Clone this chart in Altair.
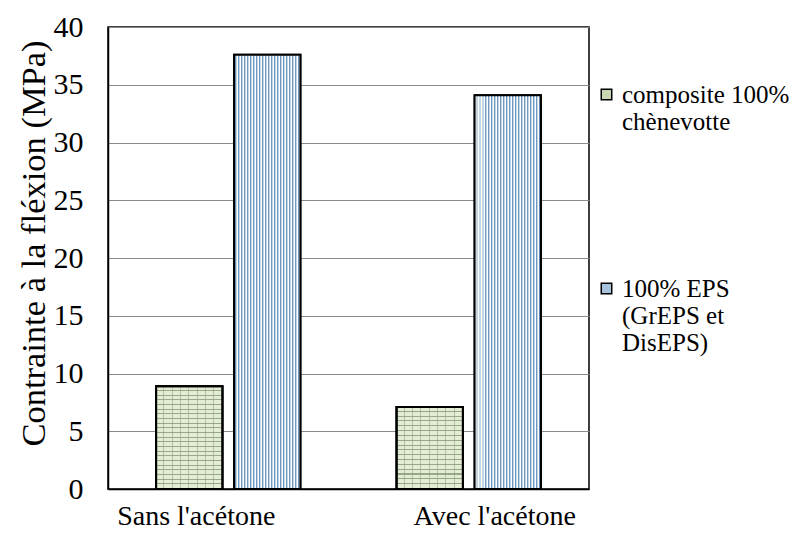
import json
import altair as alt
import pandas as pd

# ---------------- data ----------------
categories = ["Sans l'acétone", "Avec l'acétone"]
series = ["composite 100% chènevotte", "100% EPS (GrEPS et DisEPS)"]
composite_values = [8.9, 7.1]
eps_values = [37.6, 34.1]
y_ticks = [0, 5, 10, 15, 20, 25, 30, 35, 40]
legend_lines = [["composite 100%", "chènevotte"], ["100% EPS", "(GrEPS et", "DisEPS)"]]

records = []
for c, v in zip(categories, composite_values):
    records.append({"category": c, "series": series[0], "value": v})
for c, v in zip(categories, eps_values):
    records.append({"category": c, "series": series[1], "value": v})
df = pd.DataFrame(records)

# ---------------- layout ----------------
W, H = 481, 462
Y_MAX = 40
FONT = "Liberation Serif"


def stripe_gradient(n, segments, vertical_lines=True):
    stops = []
    for i in range(n):
        base = i / n
        for color, a, b in segments:
            stops.append(alt.GradientStop(offset=min(1.0, base + a / n), color=color))
            stops.append(alt.GradientStop(offset=min(1.0, base + b / n), color=color))
    if vertical_lines:
        return alt.LinearGradient(gradient="linear", stops=stops, x1=0, x2=1, y1=0, y2=0)
    return alt.LinearGradient(gradient="linear", stops=stops, x1=0, x2=0, y1=0, y2=1)


eps_fill = stripe_gradient(
    22,
    [("#ffffff", 0.0, 0.34), ("#6f97bd", 0.34, 0.62), ("#c2d6e6", 0.62, 1.0)],
    vertical_lines=True,
)
brick_joints = stripe_gradient(
    8,
    [("rgba(255,255,255,0)", 0.0, 0.88), ("rgba(140,160,120,0.55)", 0.88, 1.0)],
    vertical_lines=True,
)

x_enc = alt.X(
    "category:N",
    sort=categories,
    scale=alt.Scale(domain=categories, paddingInner=0.4, paddingOuter=0.2),
    axis=alt.Axis(
        title=None,
        labelAngle=0,
        labelFont=FONT,
        labelFontSize=28,
        labelColor="black",
        labelPadding=13,
        labelLimit=400,
        ticks=False,
        domainColor="black",
        domainWidth=1.5,
        labelOffset=alt.ConditionalAxisNumber(
            condition={"test": "datum.index < 0.5", "value": -32}, value=26
        ),
    ),
)
xoff_enc = alt.XOffset(
    "series:N", sort=series, scale=alt.Scale(domain=series, paddingInner=0.15)
)
y_enc = alt.Y(
    "value:Q",
    scale=alt.Scale(domain=[0, Y_MAX], nice=False),
    axis=alt.Axis(
        values=y_ticks,
        title="Contrainte à la fléxion (MPa)",
        titleFont=FONT,
        titleFontSize=34.5,
        titleFontWeight="normal",
        titleColor="black",
        titleAngle=-90,
        titleX=-74,
        titleY=216,
        titleAlign="center",
        titleBaseline="middle",
        labelFont=FONT,
        labelFontSize=30,
        labelColor="black",
        labelPadding=25,
        ticks=False,
        grid=True,
        gridColor="#8a8a8a",
        gridWidth=1,
        domainColor="black",
        domainWidth=1.5,
    ),
)

base = alt.Chart(df).encode(x=x_enc, xOffset=xoff_enc, y=y_enc)

label_expr = (
    "datum.label == " + json.dumps(series[0]) + " ? " + json.dumps(legend_lines[0])
    + " : " + json.dumps(legend_lines[1])
)

legend_layer = base.mark_bar(stroke="black", strokeWidth=2).encode(
    color=alt.Color(
        "series:N",
        sort=series,
        scale=alt.Scale(domain=series, range=["#c9d8b2", "#a7c2db"]),
        legend=alt.Legend(
            title=None,
            orient="none",
            legendX=486,
            legendY=55,
            direction="vertical",
            labelFont=FONT,
            labelFontSize=25,
            labelColor="black",
            labelLimit=400,
            labelExpr=label_expr,
            labelBaseline="middle",
            labelOffset=3,
            symbolType="square",
            symbolSize=110,
            symbolStrokeColor="black",
            symbolStrokeWidth=1.5,
            rowPadding=141,
            padding=0,
        ),
    )
)

layers = [legend_layer]

# composite bars: brick-like rows (light green with mortar lines)
px_per_unit = H / Y_MAX
for c, v in zip(categories, composite_values):
    n_rows = max(1, round(v * px_per_unit / 4.7))
    rows_fill = stripe_gradient(
        n_rows,
        [("#e4ecd6", 0.0, 0.78), ("#98a987", 0.78, 1.0)],
        vertical_lines=False,
    )
    sel = base.transform_filter(
        (alt.datum.series == series[0]) & (alt.datum.category == c)
    )
    layers.append(sel.mark_bar(fill=rows_fill, stroke="black", strokeWidth=2))
    layers.append(sel.mark_bar(fill=brick_joints, stroke="black", strokeWidth=2))

# EPS bars: vertical stripes
eps_sel = base.transform_filter(alt.datum.series == series[1])
layers.append(eps_sel.mark_bar(fill=eps_fill, stroke="black", strokeWidth=2))

chart = (
    alt.layer(*layers)
    .properties(
        width=W,
        height=H,
        autosize=alt.AutoSizeParams(type="none"),
        padding={"left": 100, "top": 19, "right": 200, "bottom": 41},
        background="white",
    )
    .configure_view(stroke="black", strokeWidth=1.5)
)

chart.save("out.html", embed_options={"renderer": "svg", "actions": False})
